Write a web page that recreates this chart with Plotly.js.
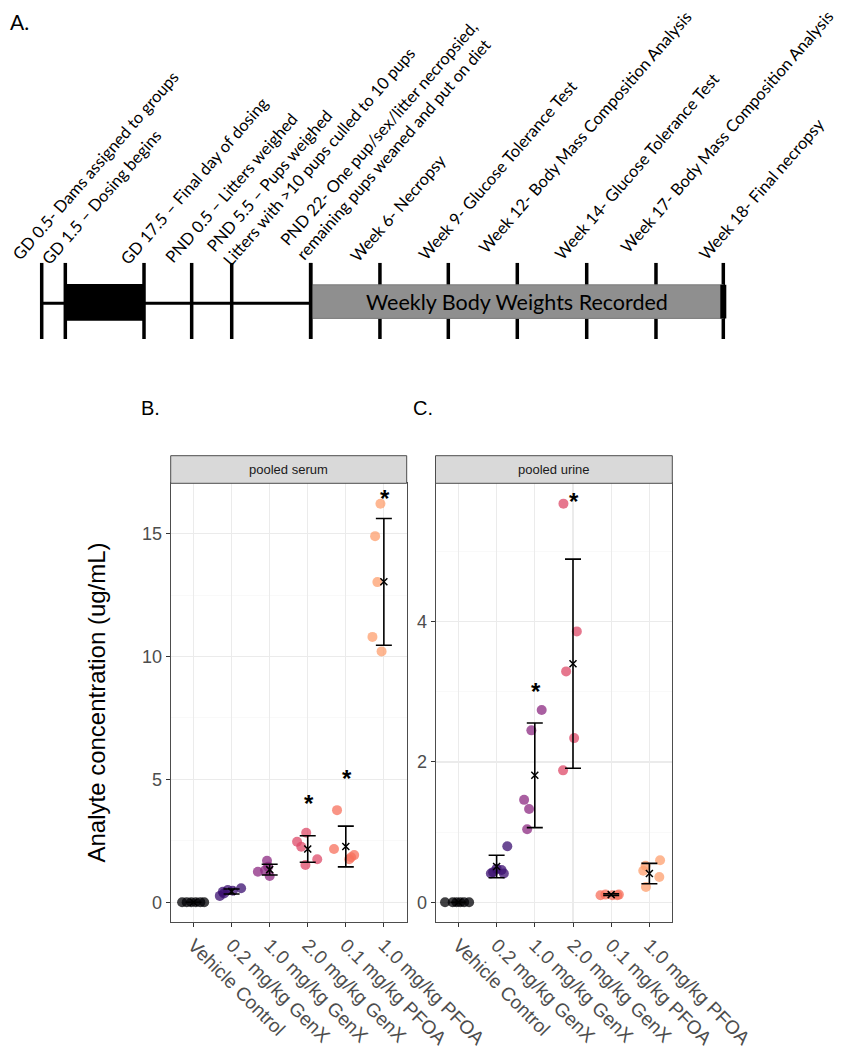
<!DOCTYPE html>
<html><head><meta charset="utf-8">
<script src="https://cdn.plot.ly/plotly-3.0.1.min.js"></script>
<style>html,body{margin:0;padding:0;background:#fff}</style>
</head><body><div id="chart" style="width:841px;height:1050px"></div>
<script>
// ---------------- DATA ----------------
const groups = ["Vehicle Control","0.2 mg/kg GenX","1.0 mg/kg GenX","2.0 mg/kg GenX","0.1 mg/kg PFOA","1.0 mg/kg PFOA"];
const groupColors = ["#000004","#3b0f70","#8c2981","#de4968","#f7705c","#fe9f6d"];

// pooled serum (ug/mL), individual pools per group and horizontal jitter (category units)
const serumValues = [
  [0,0,0,0,0,0],
  [0.26,0.36,0.43,0.50,0.47,0.57],
  [1.24,1.69,1.45,1.07,1.30],
  [2.83,2.46,2.26,1.75,1.52],
  [3.75,2.17,1.92,1.83,1.75],
  [16.22,14.90,13.03,10.80,10.21]
];
const serumJitter = [
  [-0.30,-0.18,-0.06,0.06,0.18,0.28],
  [-0.31,-0.20,-0.23,-0.10,0.03,0.25],
  [-0.31,-0.07,-0.04,0.00,-0.12],
  [-0.04,-0.28,-0.17,0.25,-0.06],
  [-0.23,-0.31,0.22,0.14,0.09],
  [-0.09,-0.23,-0.17,-0.30,-0.06]
];
const serumMean = [0, 0.44, 1.33, 2.17, 2.27, 13.04];
const serumSD   = [0, 0.10, 0.22, 0.54, 0.83, 2.58];
const serumSigGroups = [3, 4, 5];
const serumSigY = [4.23, 5.24, 16.63];

// pooled urine (ug/mL)
const urineValues = [
  [0,0,0,0,0,0],
  [0.80,0.43,0.46,0.41,0.48,0.41],
  [2.74,2.45,1.46,1.33,1.04],
  [5.68,3.86,3.29,2.34,1.88],
  [0.10,0.11,0.10,0.10,0.11],
  [0.60,0.52,0.45,0.36,0.22]
];
const urineJitter = [
  [-0.35,-0.15,-0.05,0.05,0.15,0.28],
  [0.28,-0.09,0.13,0.19,0.00,-0.15],
  [0.18,-0.09,-0.28,-0.15,-0.20],
  [-0.25,0.10,-0.18,0.03,-0.26],
  [-0.28,-0.15,0.03,0.16,0.20],
  [0.28,-0.10,-0.16,0.26,-0.09]
];
const urineMean = [0, 0.51, 1.81, 3.40, 0.11, 0.41];
const urineSD   = [0, 0.16, 0.745, 1.49, 0.012, 0.145];
const urineSigGroups = [2, 3];
const urineSigY = [3.07, 5.78];

// study timeline (schematic positions, one unit ~ one week spacing)
const timelineEvents = [
  "GD 0.5- Dams assigned to groups",
  "GD 1.5 \u2013 Dosing begins",
  "GD 17.5 \u2013 Final day of dosing",
  "PND 0.5 \u2013 Litters weighed",
  "PND 5.5 \u2013 Pups weighed<br>Litters with &gt;10 pups culled to 10 pups",
  "PND 22- One pup/sex/litter necropsied,<br>remaining pups weaned and put on diet",
  "Week 6- Necropsy",
  "Week 9- Glucose Tolerance Test",
  "Week 12- Body Mass Composition Analysis",
  "Week 14- Glucose Tolerance Test",
  "Week 17- Body Mass Composition Analysis",
  "Week 18- Final necropsy"
];
const timelinePos = [0, 0.341, 1.477, 2.165, 2.743, 3.883, 4.883, 5.870, 6.866, 7.868, 8.868, 9.840];
const dosingPeriod = [1, 2];     // event indices: GD 1.5 to GD 17.5
const weighingPeriod = [5, 11];  // event indices: PND 22 to Week 18
const weighingLabel = "Weekly Body Weights Recorded";

// ---------------- STYLE ----------------
const labelShiftX = [-36.7,-30.3,-30.7,-33.4,-31.6,-37.3,-36.7,-36.6,-45.6,-38.4,-42.7,-31.6];
const labelShiftY = [-3.9,-8.9,-8.6,-6.9,-9.9,-3.6,-5.2,-3.6,3.1,-3.6,3.1,-3.6];
const W = 841, H = 1050;
const px = v => v / W, py = v => 1 - v / H;
const axisFont = "Liberation Sans, Arial, sans-serif";
const tlFont = "Lato, Open Sans, sans-serif";

const traces = [];
function addPanel(values, jitter, mean, sd, xa, ya) {
  values.forEach((vals, g) => {
    traces.push({
      type: "scatter", mode: "markers", xaxis: xa, yaxis: ya,
      x: vals.map((v, i) => g + 1 + jitter[g][i]), y: vals,
      marker: {color: groupColors[g], size: 10, opacity: 0.75, line: {width: 0}},
      hoverinfo: "skip", showlegend: false
    });
  });
  traces.push({
    type: "scatter", mode: "markers", xaxis: xa, yaxis: ya,
    x: groups.map((_, i) => i + 1), y: mean,
    error_y: {type: "data", array: sd, visible: true, color: "#000", thickness: 1.6, width: 8},
    marker: {symbol: "x-thin-open", size: 7, color: "#000", line: {width: 1.5, color: "#000"}},
    showlegend: false, hoverinfo: "skip"
  });
}
addPanel(serumValues, serumJitter, serumMean, serumSD, "x", "y");
addPanel(urineValues, urineJitter, urineMean, urineSD, "x2", "y2");
// invisible anchor trace for the timeline axes
traces.push({type: "scatter", mode: "markers", x: timelinePos, y: timelinePos.map(() => 1),
  xaxis: "x3", yaxis: "y3", marker: {opacity: 0}, hoverinfo: "skip", showlegend: false});

const plotTop = 483.3, plotBot = 921.7;
const baseX = (dom, anchor) => ({
  domain: dom, anchor: anchor, range: [0.4, 6.6],
  tickvals: groups.map((_, i) => i + 1), ticktext: groups, tickangle: 45,
  tickfont: {family: axisFont, size: 19, color: "#4d4d4d"},
  ticks: "outside", ticklen: 4, tickwidth: 1, tickcolor: "#333",
  showgrid: true, gridcolor: "#ebebeb", gridwidth: 1.1, zeroline: false,
  showline: true, mirror: true, linecolor: "#4d4d4d", linewidth: 1, fixedrange: true
});
const baseY = (dom, anchor, range, dtick, minor) => ({
  domain: dom, anchor: anchor, range: range, dtick: dtick, tick0: 0,
  tickfont: {family: axisFont, size: 18, color: "#4d4d4d"},
  ticks: "outside", ticklen: 4, tickwidth: 1, tickcolor: "#333",
  showgrid: true, gridcolor: "#ebebeb", gridwidth: 1.1, zeroline: false,
  minor: {dtick: minor, tick0: 0, showgrid: true, gridcolor: "#f5f5f5", gridwidth: 0.6, ticks: ""},
  showline: true, mirror: true, linecolor: "#4d4d4d", linewidth: 1, fixedrange: true
});

const yDom = [py(plotBot), py(plotTop)];
const layout = {
  width: W, height: H, margin: {l: 0, r: 0, t: 0, b: 0},
  paper_bgcolor: "#fff", plot_bgcolor: "#fff", showlegend: false,
  xaxis: baseX([px(170.7), px(406.7)], "y"),
  yaxis: Object.assign(baseY(yDom, "x", [-0.79, 17.05], 5, 2.5), {
    title: {text: "Analyte concentration (ug/mL)", font: {family: axisFont, size: 24, color: "#000"}, standoff: 29}
  }),
  xaxis2: baseX([px(435.5), px(672.3)], "y2"),
  yaxis2: baseY(yDom, "x2", [-0.276, 5.97], 2, 1),
  xaxis3: {domain: [0, 1], anchor: "y3", range: [-0.602, 11.539], visible: false, fixedrange: true},
  yaxis3: {domain: [py(339), py(262.7)], anchor: "x3", range: [0, 1], visible: false, fixedrange: true},
  shapes: [], annotations: []
};

// timeline shapes
const tl = (o) => Object.assign({xref: "x3", yref: "y3", layer: "above"}, o);
timelinePos.forEach(p => layout.shapes.push(tl({type: "line", x0: p, x1: p, y0: 0, y1: 1, line: {color: "#000", width: 3.5}})));
layout.shapes.push(tl({type: "line", x0: timelinePos[0], x1: timelinePos[weighingPeriod[0]], y0: 0.47, y1: 0.47, line: {color: "#000", width: 3}}));
layout.shapes.push(tl({type: "rect", x0: timelinePos[dosingPeriod[0]], x1: timelinePos[dosingPeriod[1]], y0: 0.24, y1: 0.72, fillcolor: "#000", line: {width: 0}}));
layout.shapes.push(tl({type: "rect", x0: timelinePos[weighingPeriod[0]], x1: timelinePos[weighingPeriod[1]], y0: 0.27, y1: 0.71, fillcolor: "#8f8f8f", line: {color: "#7a7a7a", width: 1}}));
layout.shapes.push(tl({type: "line", x0: timelinePos[weighingPeriod[0]], x1: timelinePos[weighingPeriod[0]], y0: 0, y1: 1, line: {color: "#000", width: 3.5}}));
layout.shapes.push(tl({type: "line", x0: timelinePos[weighingPeriod[1]], x1: timelinePos[weighingPeriod[1]], y0: 0.27, y1: 0.71, line: {color: "#000", width: 6}}));

layout.annotations.push({xref: "x3", yref: "y3", x: (timelinePos[weighingPeriod[0]] + timelinePos[weighingPeriod[1]]) / 2, y: 0.49,
  text: weighingLabel, showarrow: false, font: {family: tlFont, size: 21.5, color: "#000"}, xanchor: "center", yanchor: "middle"});
timelineEvents.forEach((t, i) => layout.annotations.push({
  xref: "x3", yref: "y3", x: timelinePos[i], y: 1, text: t, showarrow: false, textangle: -49,
  xanchor: "left", yanchor: "bottom", align: "left", xshift: labelShiftX[i], yshift: labelShiftY[i],
  font: {family: tlFont, size: 16.5, color: "#000"}
}));

// strips
[[170.7, 406.7, "pooled serum"], [435.5, 672.3, "pooled urine"]].forEach(([a, b, t]) => {
  layout.shapes.push({type: "rect", xref: "paper", yref: "paper", x0: px(a), x1: px(b), y0: py(plotTop), y1: py(455.7),
    fillcolor: "#d9d9d9", line: {color: "#4d4d4d", width: 1}});
  layout.annotations.push({xref: "paper", yref: "paper", x: px((a + b) / 2), y: py(469.5), text: t, showarrow: false,
    font: {family: axisFont, size: 13, color: "#1a1a1a"}, xanchor: "center", yanchor: "middle"});
});

// significance asterisks
serumSigGroups.forEach((g, i) => layout.annotations.push({xref: "x", yref: "y", x: g + 1.03, y: serumSigY[i], text: "<b>*</b>",
  showarrow: false, font: {family: axisFont, size: 24, color: "#000"}, xanchor: "center", yanchor: "middle", yshift: -5}));
urineSigGroups.forEach((g, i) => layout.annotations.push({xref: "x2", yref: "y2", x: g + 1.03, y: urineSigY[i], text: "<b>*</b>",
  showarrow: false, font: {family: axisFont, size: 24, color: "#000"}, xanchor: "center", yanchor: "middle", yshift: -5}));

// panel letters
[["A.", 19, 22, tlFont, 21], ["B.", 150, 408, axisFont, 20], ["C.", 423, 408, axisFont, 20]].forEach(([t, x, y, f, s]) =>
  layout.annotations.push({xref: "paper", yref: "paper", x: px(x), y: py(y), text: t, showarrow: false,
    font: {family: f, size: s, color: "#000"}, xanchor: "center", yanchor: "middle"}));

Plotly.newPlot("chart", traces, layout, {staticPlot: true, displayModeBar: false});
</script>
</body></html>
